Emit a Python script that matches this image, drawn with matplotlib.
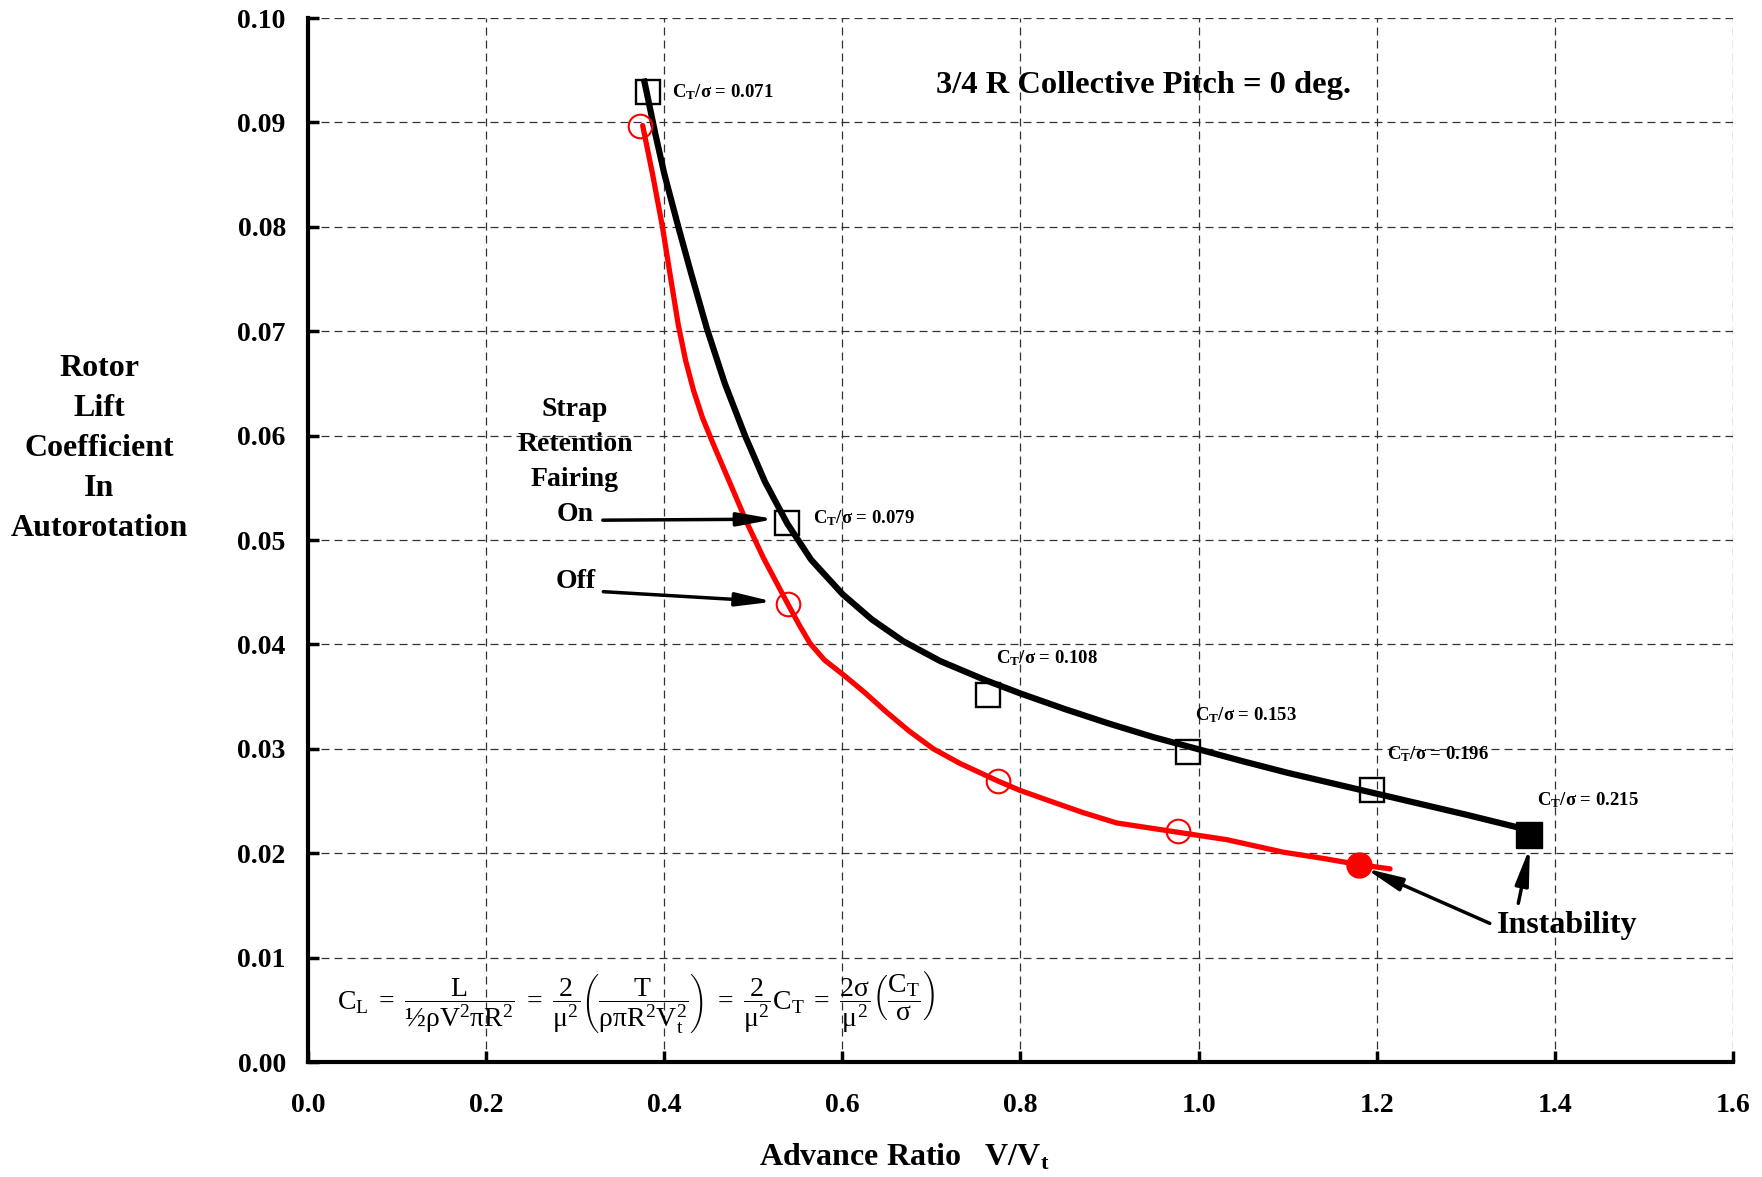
import matplotlib
matplotlib.use("Agg")
import matplotlib.pyplot as plt

plt.rcParams['font.family'] = ['Liberation Serif', 'DejaVu Serif']
plt.rcParams['mathtext.fontset'] = 'custom'
plt.rcParams['mathtext.rm'] = 'Liberation Serif'
plt.rcParams['mathtext.it'] = 'Liberation Serif'
plt.rcParams['mathtext.bf'] = 'Liberation Serif:bold'
plt.rcParams['mathtext.default'] = 'rm'

# ---- data ----
# smooth fitted curves
on_curve_x = [0.377, 0.381, 0.390, 0.400, 0.4158, 0.430, 0.4477, 0.468, 0.4907, 0.513,
              0.538, 0.565, 0.6004, 0.633, 0.6685, 0.71, 0.76, 0.80, 0.85, 0.90,
              0.95, 0.998, 1.05, 1.10, 1.15, 1.20, 1.25, 1.30, 1.3714]
on_curve_y = [0.0942, 0.0926, 0.0889, 0.0851, 0.0800, 0.0756, 0.0703, 0.0650, 0.0600, 0.0556,
              0.0516, 0.0481, 0.0448, 0.0424, 0.0403, 0.0384, 0.0366, 0.0353, 0.0338, 0.0324,
              0.0311, 0.0300, 0.0288, 0.0277, 0.0267, 0.0257, 0.0247, 0.0237, 0.0222]
off_curve_x = [0.3758, 0.387, 0.398, 0.407, 0.4158, 0.424, 0.433, 0.443, 0.455, 0.4776,
               0.4926, 0.5113, 0.5386, 0.552, 0.5637, 0.580, 0.601, 0.625, 0.6498, 0.675,
               0.7021, 0.7321, 0.7751, 0.80, 0.8331, 0.87, 0.908, 0.9772, 1.0315, 1.095,
               1.14, 1.1805, 1.215]
off_curve_y = [0.0897, 0.0850, 0.0800, 0.0752, 0.0706, 0.0672, 0.0643, 0.0617, 0.0592, 0.0547,
               0.0517, 0.0483, 0.0439, 0.0418, 0.0401, 0.0385, 0.0371, 0.0354, 0.0335, 0.0317,
               0.0300, 0.0286, 0.0269, 0.0260, 0.0250, 0.0239, 0.0229, 0.0220, 0.0213, 0.0201,
               0.0195, 0.0189, 0.0185]

# measured points
on_x = [0.3814, 0.5382, 0.7632, 0.9885, 1.195]
on_y = [0.0929, 0.0516, 0.0352, 0.0297, 0.0261]
on_unstable = (1.3714, 0.0217)
off_x = [0.3728, 0.5386, 0.7751, 0.9772]
off_y = [0.0897, 0.0439, 0.0269, 0.0221]
off_unstable = (1.1805, 0.0189)

ct_labels = ['0.071', '0.079', '0.108', '0.153', '0.196', '0.215']
ct_label_x = [0.4084, 0.5674, 0.7725, 0.996, 1.2112, 1.3803]
ct_label_y = [0.0929, 0.05208, 0.03867, 0.03324, 0.0295, 0.0251]

xticks = [0.0, 0.2, 0.4, 0.6, 0.8, 1.0, 1.2, 1.4, 1.6]
xticklabels = ['0.0', '0.2', '0.4', '0.6', '0.8', '1.0', '1.2', '1.4', '1.6']
yticks = [0.00, 0.01, 0.02, 0.03, 0.04, 0.05, 0.06, 0.07, 0.08, 0.09, 0.10]
yticklabels = ['0.00', '0.01', '0.02', '0.03', '0.04', '0.05', '0.06', '0.07', '0.08', '0.09', '0.10']

# ---- figure ----
fig = plt.figure(figsize=(17.62, 11.77), dpi=100)
ax = fig.add_axes([0.1748, 0.0977, 0.8087, 0.887])
ax.set_xlim(0, 1.6)
ax.set_ylim(0, 0.1)
ax.set_xticks(xticks)
ax.set_xticklabels(xticklabels)
ax.set_yticks(yticks)
ax.set_yticklabels(yticklabels)
ax.grid(True, color='#333333', lw=0.9, linestyle=(0, (6.4, 4.0)), zorder=0)
for s in ['top', 'right']:
    ax.spines[s].set_visible(False)
for s in ['left', 'bottom']:
    ax.spines[s].set_linewidth(3)
ax.tick_params(axis='both', direction='in', length=8, width=2.5, labelsize=20)
ax.tick_params(axis='x', pad=22)
ax.tick_params(axis='y', pad=16)
for lab in ax.get_xticklabels() + ax.get_yticklabels():
    lab.set_fontweight('bold')

ax.plot(off_curve_x, off_curve_y, color='#ff0000', lw=3.8, solid_capstyle='round',
        solid_joinstyle='round', zorder=3)
ax.plot(on_curve_x, on_curve_y, color='black', lw=4.5, solid_capstyle='butt',
        solid_joinstyle='round', zorder=4)
ax.plot(on_x, on_y, linestyle='none', marker='s', markersize=17, mfc='none', mec='black', mew=1.7, zorder=5)
ax.plot([on_unstable[0]], [on_unstable[1]], linestyle='none', marker='s', markersize=19,
        mfc='black', mec='black', zorder=5)
ax.plot(off_x, off_y, linestyle='none', marker='o', markersize=17, mfc='none', mec='#ff0000', mew=1.5, zorder=5)
ax.plot([off_unstable[0]], [off_unstable[1]], linestyle='none', marker='o', markersize=18,
        mfc='#ff0000', mec='#ff0000', zorder=5)

for lab, lx, ly in zip(ct_labels, ct_label_x, ct_label_y):
    ax.text(lx, ly, r'C$_\mathbf{T}$/σ = ' + lab, fontsize=13.5, fontweight='bold',
            ha='left', va='center', zorder=6)

ax.text(0.9387, 0.0935, '3/4 R Collective Pitch = 0 deg.', fontsize=23.4, fontweight='bold',
        ha='center', va='center')
ax.text(0.2998, 0.0575, 'Strap\nRetention\nFairing\nOn', fontsize=20, fontweight='bold',
        ha='center', va='center', linespacing=1.53)
ax.text(0.3009, 0.0460, 'Off', fontsize=20, fontweight='bold', ha='center', va='center')
ax.text(1.4142, 0.01303, 'Instability', fontsize=23, fontweight='bold', ha='center', va='center')

aprops = dict(arrowstyle='-|>,head_length=1.1,head_width=0.2', lw=2.5, color='black',
              shrinkA=0, shrinkB=0, mutation_scale=20)
ax.annotate('', xy=(0.524, 0.0520), xytext=(0.331, 0.0519), arrowprops=aprops, zorder=6)
ax.annotate('', xy=(0.5225, 0.04409), xytext=(0.3316, 0.04505), arrowprops=aprops, zorder=6)
ax.annotate('', xy=(1.187, 0.01855), xytext=(1.327, 0.01328), arrowprops=aprops, zorder=6)
ax.annotate('', xy=(1.372, 0.02056), xytext=(1.359, 0.0152), arrowprops=aprops, zorder=6)

formula = (r'$C_L\;=\;\dfrac{L}{½\rho V^2\pi R^2}\;=\;\dfrac{2}{\mu^2}\left(\dfrac{T}{\rho\pi R^2V_t^2}\right)'
           r'\;=\;\dfrac{2}{\mu^2}C_T\;=\;\dfrac{2\sigma}{\mu^2}\left(\dfrac{C_T}{\sigma}\right)$')
ax.text(0.0326, 0.00565, formula, fontsize=20, ha='left', va='center', zorder=6)

fig.text(99 / 1762, 1 - 449 / 1177, 'Rotor\nLift\nCoefficient\nIn\nAutorotation', fontsize=23,
         fontweight='bold', ha='center', va='center', linespacing=1.5)
fig.text(904 / 1762, 1 - 1157 / 1177, r'Advance Ratio   V/V$_\mathbf{t}$', fontsize=23,
         fontweight='bold', ha='center', va='center')

fig.savefig('out.png', dpi=100)
